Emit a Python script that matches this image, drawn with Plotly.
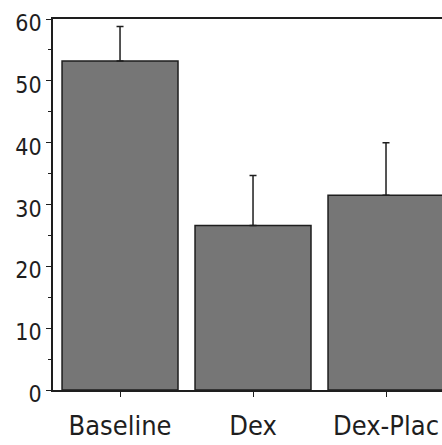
import plotly.graph_objects as go

categories = ["Baseline", "Dex", "Dex-Plac"]
means = [53.2, 26.6, 31.5]
errors_up = [5.6, 8.1, 8.5]
y_ticks = [0, 10, 20, 30, 40, 50, 60]

dark = "#1e1e1e"
fam = "DejaVu Sans Condensed, Liberation Sans Narrow, Arial Narrow, sans-serif"
fig = go.Figure()
fig.add_trace(go.Bar(
    x=categories, y=means,
    marker=dict(color="#767676", line=dict(color=dark, width=1.5)),
    error_y=dict(type="data", array=errors_up, arrayminus=[0] * len(errors_up),
                 symmetric=False, color=dark, thickness=1.5, width=3.5),
    width=0.872,
))

fig.update_layout(
    width=442, height=445,
    margin=dict(l=53, r=0, t=19, b=55),
    paper_bgcolor="white", plot_bgcolor="white",
    showlegend=False,
    font=dict(family=fam, color=dark),
    xaxis=dict(
        type="category", range=[-0.504, 2.421], automargin=False,
        showline=True, linecolor=dark, linewidth=1.5, mirror=True,
        ticks="outside", ticklen=5, tickwidth=1, tickcolor=dark,
        tickfont=dict(size=27), showgrid=False, zeroline=False,
        ticklabelstandoff=6,
    ),
    yaxis=dict(
        range=[0, 60], tickvals=y_ticks, automargin=False,
        showline=True, linecolor=dark, linewidth=1.5,
        ticks="outside", ticklen=5, tickwidth=1, tickcolor=dark,
        minor=dict(dtick=5, ticks="outside", ticklen=3, tickwidth=1, tickcolor=dark, showgrid=False),
        tickfont=dict(size=23), showgrid=False, zeroline=False,
        ticklabelshift=4,
    ),
)
fig.write_html("out.html", config={"displayModeBar": False},
               post_script="document.body.style.margin='0';document.body.style.padding='0';")
